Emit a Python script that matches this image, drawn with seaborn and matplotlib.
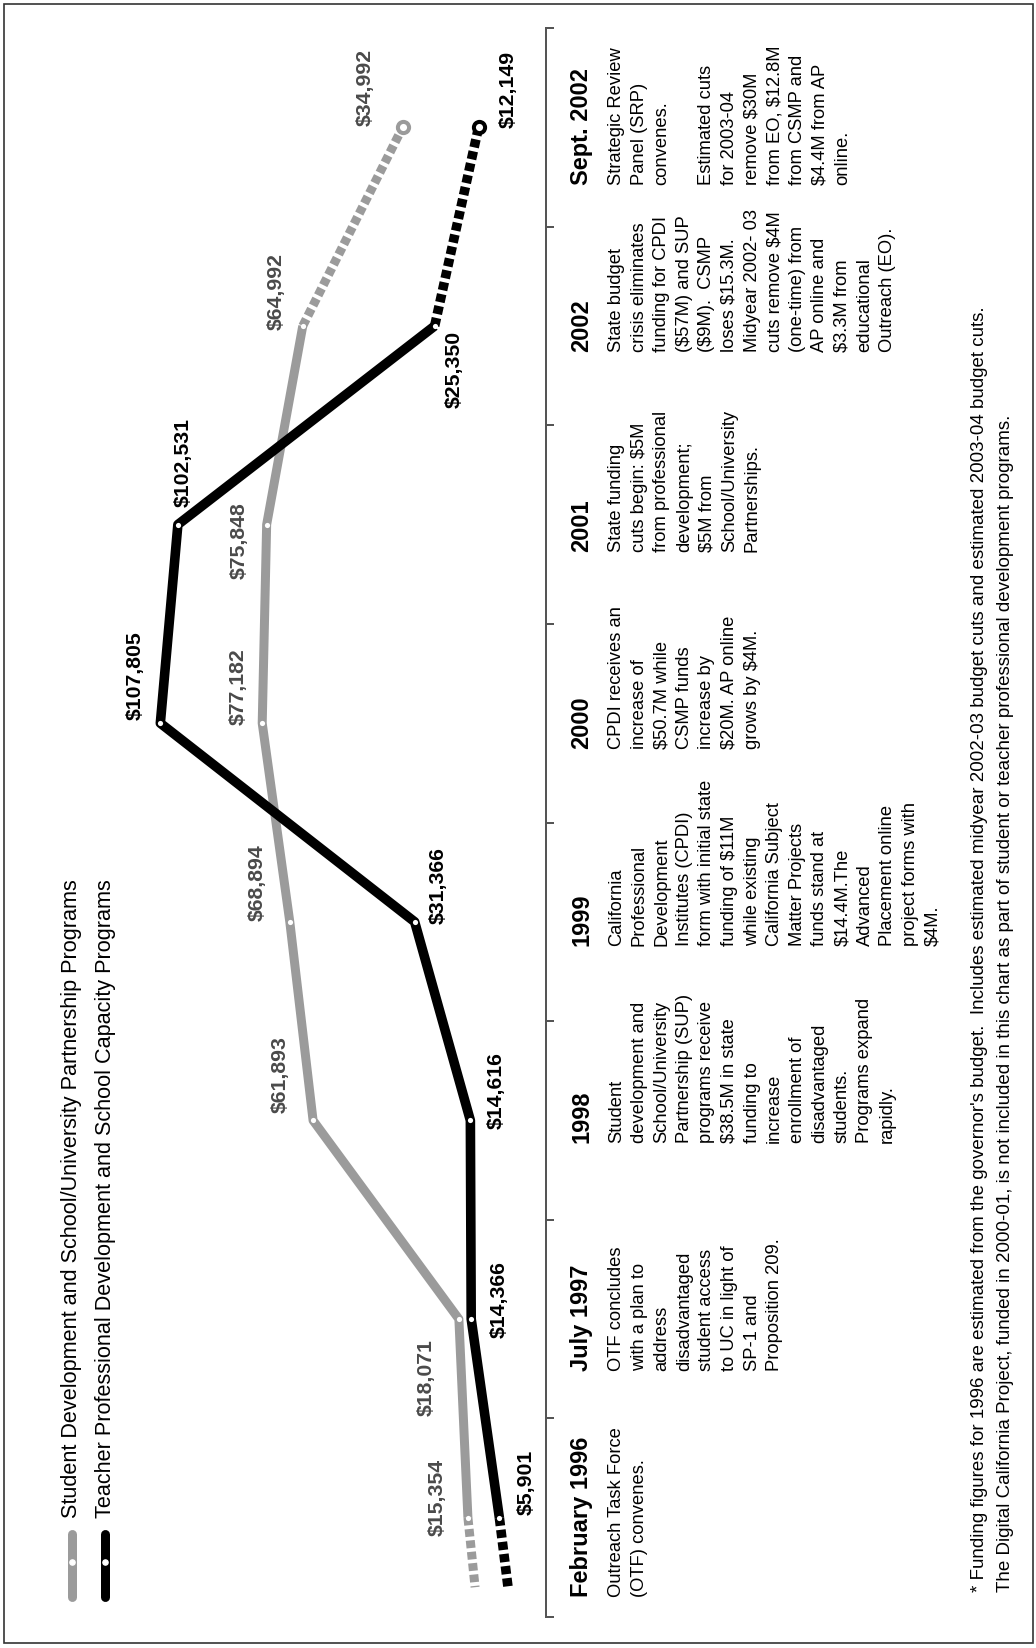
import matplotlib
matplotlib.use("Agg")
import matplotlib.pyplot as plt
import numpy as np
import pandas as pd
import seaborn as sns

# Funding per period (dollars, in thousands)
periods = ["February 1996", "July 1997", "1998", "1999", "2000", "2001", "2002", "Sept. 2002"]
student_funding = [15354, 18071, 61893, 68894, 77182, 75848, 64992, 34992]
teacher_funding = [5901, 14366, 14616, 31366, 107805, 102531, 25350, 12149]

# the dashed 1996 stubs run off below the first column
stub_pos = -0.35
student_stub = 13200
teacher_stub = 3300

legend_labels = [
    "Student Development and School/University Partnership Programs",
    "Teacher Professional Development and School Capacity Programs",
]

events = [
    "Outreach Task Force\n(OTF) convenes.",
    "OTF concludes\nwith a plan to\naddress\ndisadvantaged\nstudent access\nto UC in light of\nSP-1 and\nProposition 209.",
    "Student\ndevelopment and\nSchool/University\nPartnership (SUP)\nprograms receive\n$38.5M in state\nfunding to\nincrease\nenrollment of\ndisadvantaged\nstudents.\nPrograms expand\nrapidly.",
    "California\nProfessional\nDevelopment\nInstitutes (CPDI)\nform with initial state\nfunding of $11M\nwhile existing\nCalifornia Subject\nMatter Projects\nfunds stand at\n$14.4M.The\nAdvanced\nPlacement online\nproject forms with\n$4M.",
    "CPDI receives an\nincrease of\n$50.7M while\nCSMP funds\nincrease by\n$20M. AP online\ngrows by $4M.",
    "State funding\ncuts begin: $5M\nfrom professional\ndevelopment;\n$5M from\nSchool/University\nPartnerships.",
    "State budget\ncrisis eliminates\nfunding for CPDI\n($57M) and SUP\n($9M).  CSMP\nloses $15.3M.\nMidyear 2002- 03\ncuts remove $4M\n(one-time) from\nAP online and\n$3.3M from\neducational\nOutreach (EO).",
    "Strategic Review\nPanel (SRP)\nconvenes.\n\nEstimated cuts\nfor 2003-04\nremove $30M\nfrom EO, $12.8M\nfrom CSMP and\n$4.4M from AP\nonline.",
]

footnotes = [
    "* Funding figures for 1996 are estimated from the governor's budget.  Includes estimated midyear 2002-03 budget cuts and estimated 2003-04 budget cuts.",
    "The Digital California Project, funded in 2000-01, is not included in this chart as part of student or teacher professional development programs.",
]

# label offsets from each point, in pixels (right, down)
student_label_offsets = [(-31, -20), (-33, 59), (-33, -46), (-33, -39), (-24, -37), (-27, 16), (-27, -34), (-37, -40)]
teacher_label_offsets = [(27, -35), (28, -19), (26, -30), (24, -36), (-25, -48), (5, -62), (20, 44), (30, -38)]

GRAY = "#9b9b9b"
GRAY_TXT = "#4a4a4a"
BLACK = "#000000"
AXIS = "#555555"

sns.set_style("white")
plt.rcParams["font.family"] = ["Liberation Sans", "DejaVu Sans"]
plt.rcParams["text.parse_math"] = False

W, H = 1036, 1648
fig = plt.figure(figsize=(W / 100, H / 100), dpi=100)

# overlay in pixel units for the text columns, legend and frame
over = fig.add_axes([0, 0, 1, 1])
over.set_xlim(0, W)
over.set_ylim(H, 0)
over.axis("off")
over.patch.set_visible(False)

# main axes: dollars run right-to-left, time runs bottom-to-top
px_per_dollar = 0.003327
zero_px = 519
left_px, right_px, top_px, bot_px = 20, 546, 28, 1617
ax = fig.add_axes([left_px / W, (H - bot_px) / H, (right_px - left_px) / W, (bot_px - top_px) / H])
ax.set_facecolor("none")

df = pd.DataFrame({
    "period": periods,
    "pos": np.arange(len(periods)),
    "student": student_funding,
    "teacher": teacher_funding,
})

dash = (0, (0.85, 0.42))
series = [("student", GRAY, student_stub, 9.0 * 0.72), ("teacher", BLACK, teacher_stub, 9.6 * 0.72)]
for col, color, stub, lw in series:
    sns.lineplot(data=df.iloc[:-1], x=col, y="pos", orient="y", sort=False, estimator=None,
                 color=color, linewidth=lw, solid_capstyle="butt", ax=ax, zorder=2)
    sns.lineplot(data=df.iloc[-2:], x=col, y="pos", orient="y", sort=False, estimator=None,
                 color=color, linewidth=lw, linestyle=dash, dash_capstyle="butt", ax=ax, zorder=2)
    stub_df = pd.DataFrame({col: [df[col].iloc[0], stub], "pos": [0, stub_pos]})
    sns.lineplot(data=stub_df, x=col, y="pos", orient="y", sort=False, estimator=None,
                 color=color, linewidth=lw, linestyle=dash, dash_capstyle="butt", ax=ax, zorder=2)
    sns.scatterplot(data=df.iloc[:-1], x=col, y="pos", color="white", s=14, linewidth=0, ax=ax, zorder=4)
    sns.scatterplot(data=df.iloc[-1:], x=col, y="pos", color="white", edgecolor=color,
                    s=65, linewidth=2.9, ax=ax, zorder=4)

for col, offs, tc in [("student", student_label_offsets, GRAY_TXT), ("teacher", teacher_label_offsets, BLACK)]:
    for i, v in enumerate(df[col]):
        dx, dy = offs[i]
        ax.annotate(f"${v:,}", xy=(v, i), xytext=(dx * 0.72, -dy * 0.72), textcoords="offset points",
                    rotation=90, ha="center", va="center", fontsize=15.3, fontweight="bold", color=tc)

ax.set_xlim((zero_px - left_px) / px_per_dollar, (zero_px - right_px) / px_per_dollar)
ax.set_ylim(-0.5, len(periods) - 0.5)
ax.set_xlabel("")
ax.set_ylabel("")
ax.set_xticks([])
ax.set_yticks(np.arange(-0.5, len(periods), 1.0))
ax.yaxis.tick_right()
ax.tick_params(axis="y", direction="out", length=8 * 0.72, width=2 * 0.72, color=AXIS,
               labelright=False, labelleft=False)
for s in ["left", "top", "bottom"]:
    ax.spines[s].set_visible(False)
ax.spines["right"].set_color(AXIS)
ax.spines["right"].set_linewidth(2 * 0.72)

# event columns
header_x, body_x = 570, 608
text_start = [1597, 1371, 1143, 946, 749, 552, 352, 185]
for period, event, y in zip(periods, events, text_start):
    over.text(header_x, y, period, rotation=90, rotation_mode="anchor", ha="left", va="top",
              fontsize=17, fontweight="bold", color="black")
    over.text(body_x, y, event, rotation=90, rotation_mode="anchor", ha="left", va="top",
              fontsize=13.2, linespacing=1.43, color="black")

# legend
legend_lw = 9.0 * 0.72
for x, label, color in zip([71.5, 105], legend_labels, [GRAY, BLACK]):
    over.plot([x, x], [1534, 1597], color=color, lw=legend_lw, solid_capstyle="round")
    over.scatter([x], [1562], s=14, color="white", zorder=3)
    over.text(x, 1518, label, rotation=90, rotation_mode="anchor", ha="left", va="center",
              fontsize=15.6, color="black")

# footnotes
for x, note in zip([979, 1006], footnotes):
    over.text(x, 1592, note, rotation=90, rotation_mode="anchor", ha="left", va="center",
              fontsize=13.5, color="black")

over.add_patch(plt.Rectangle((3.5, 3.5), 1029, 1639, fill=False, ec="#333333", lw=1.2))

fig.savefig("out.png", dpi=100)
